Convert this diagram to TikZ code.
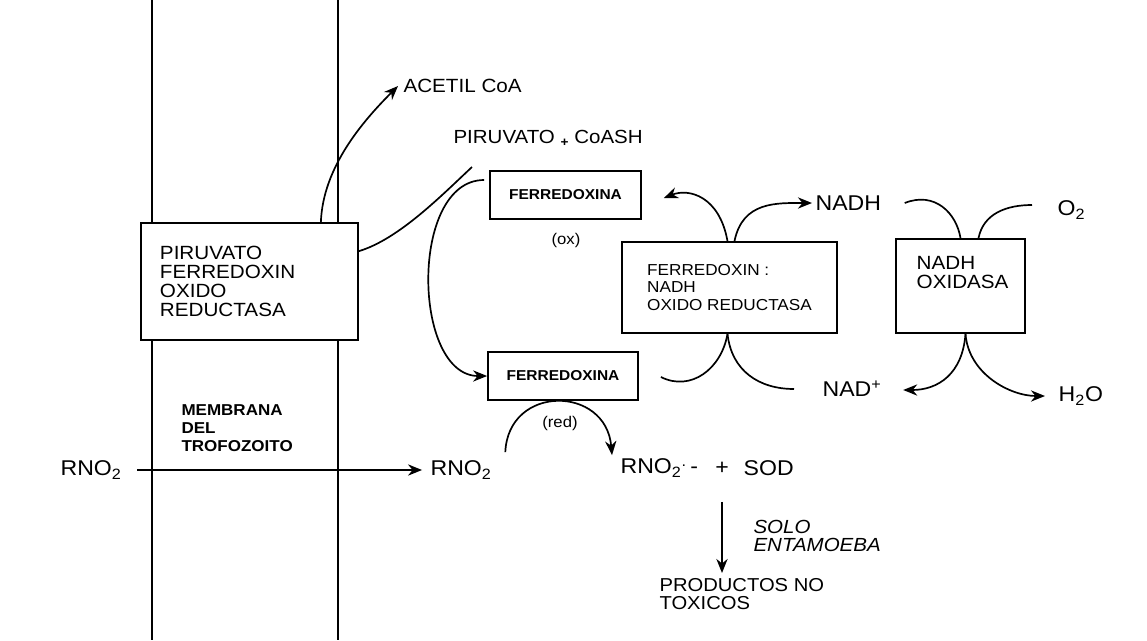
\documentclass[tikz,border=0pt]{standalone}
\usepackage{fontspec}
\setmainfont[FakeStretch=1.08]{Liberation Sans}
\usetikzlibrary{arrows.meta,calc,positioning}

\begin{document}
\begin{tikzpicture}[x=0.025cm, y=-0.025cm, line width=1.2pt,
  >={Stealth[length=10pt,width=8pt]},
  caja/.style={draw, fill=white},
  grande/.style={font=\fontsize{15.2}{18}\selectfont, inner sep=2pt},
  medio/.style={font=\fontsize{13.6}{13.5}\selectfont, align=left},
  chico/.style={font=\bfseries\fontsize{10.2}{12}\selectfont}]
  \useasboundingbox (0,0) rectangle (1147,640);

  % membrana
  \draw (152,0) -- (152,640);
  \draw (338,0) -- (338,640);

  % enzimas
  \node[caja, medio, text width=4.475cm, inner xsep=0.475cm, minimum width=5.425cm, minimum height=2.925cm] (pfor) at (249.5,281.5) {PIRUVATO\\FERREDOXIN\\OXIDO\\REDUCTASA};
  \node[caja, chico, minimum width=3.775cm, minimum height=1.2cm] (fdox) at (565.5,195) {FERREDOXINA};
  \node[caja, chico, minimum width=3.75cm, minimum height=1.2cm] (fdred) at (563,376) {FERREDOXINA};
  \node[caja, font=\fontsize{11.3}{12.5}\selectfont, align=left, minimum width=5.375cm, minimum height=2.275cm] (fnor) at (729.5,287.5) {FERREDOXIN :\\NADH\\OXIDO REDUCTASA};
  \node[caja, minimum width=3.225cm, minimum height=2.35cm] (nox) at (960.5,286) {};
  \node[medio, below right=0.32cm and 0.4cm of nox.north west] (noxtxt) {NADH\\OXIDASA};

  % sustratos y productos
  \node[medio, anchor=west] (acetil) at (398,86) {ACETIL CoA};
  \node[font=\fontsize{13.5}{14}\selectfont, anchor=west] (piruv) at (448,138) {PIRUVATO \raisebox{-2pt}{\small\bfseries +} CoASH};
  \node[font=\fontsize{11}{12}\selectfont] (ox) at (566,240) {(ox)};
  \node[font=\fontsize{11}{12}\selectfont] (red) at (560,423) {(red)};
  \node[grande, anchor=west] (nadh) at (812,203) {NADH};
  \node[grande, anchor=west] (o2) at (1054,210) {O\textsubscript{2}};
  \node[grande, anchor=west] (nadp) at (819,389) {NAD\textsuperscript{+}};
  \node[grande, anchor=west] (h2o) at (1055,396) {H\textsubscript{2}O};
  \node[font=\bfseries\fontsize{11.2}{12.8}\selectfont, align=left, anchor=west] (membrana) at (176,428) {MEMBRANA\\DEL\\TROFOZOITO};
  \node[grande, anchor=west] (rnoext) at (57,470) {RNO\textsubscript{2}};
  \node[grande, anchor=west] (rnoint) at (427,470) {RNO\textsubscript{2}};
  \node[grande, anchor=west] (radical) at (617,468) {RNO\textsubscript{2}\textsuperscript{.}\,-};
  \node[grande] (mas) at (722,468) {+};
  \node[grande, anchor=west] (sod) at (740,468) {SOD};
  \node[font=\itshape\fontsize{13.5}{13}\selectfont, align=left, anchor=west] (solo) at (748,536) {SOLO\\ENTAMOEBA};
  \node[font=\fontsize{13.3}{13}\selectfont, align=left, anchor=north west] (productos) at (654,573) {PRODUCTOS NO\\TOXICOS};
  \coordinate (pirfin) at (472,167);

  % conexiones
  \draw[->] ($(pfor.north east)+(-38,0)$) .. controls +(2,-55) and +(-35,35) .. (acetil.west);
  \draw ($(pfor.north east)+(0,29)$) .. controls +(40,-12) and +(-30,28) .. (pirfin);
  \draw[->] ($(fdox.west)+(-5,-15)$) .. controls +(-75,0) and +(-75,0) .. (fdred.west);
  \draw[->] ($(rnoint.north east)+(10,-5)$) .. controls +(3,-68) and +(-6,-70) .. ($(radical.north west)+(-5,0)$);
  \draw[->] ($(fnor.north)+(-2,0)$) .. controls +(-8,-45) and +(25,-10) .. ($(fdox.east)+(22,3)$);
  \draw[->] ($(fnor.north)+(5,0)$) .. controls +(8,-40) and +(-35,0) .. (nadh.west);
  \draw ($(fdred.east)+(22,1)$) .. controls +(30,15) and +(-6,35) .. ($(fnor.south)+(-2,0)$);
  \draw ($(fnor.south)+(-2,0)$) .. controls +(4,37) and +(-35,0) .. ($(nadp.west)+(-25,0)$);
  \draw ($(nadh.east)+(20,0)$) .. controls +(30,-12) and +(-4,-25) .. (nox.north);
  \draw ($(nox.north)+(18,0)$) .. controls +(5,-25) and +(-25,0) .. ($(o2.west)+(-22,-5)$);
  \draw[->] ($(nox.south)+(5,0)$) .. controls +(-3,40) and +(35,0) .. ($(nadp.east)+(18,1)$);
  \draw[->] ($(nox.south)+(5,0)$) .. controls +(3,40) and +(-35,0) .. ($(h2o.west)+(-10,0)$);
  \draw[->, shorten <=8.5pt, shorten >=3.5pt] (rnoext) -- (rnoint);
  \draw[->] ([yshift=-0.6cm]mas.south) -- (mas.south |- productos.north);
\end{tikzpicture}
\end{document}
